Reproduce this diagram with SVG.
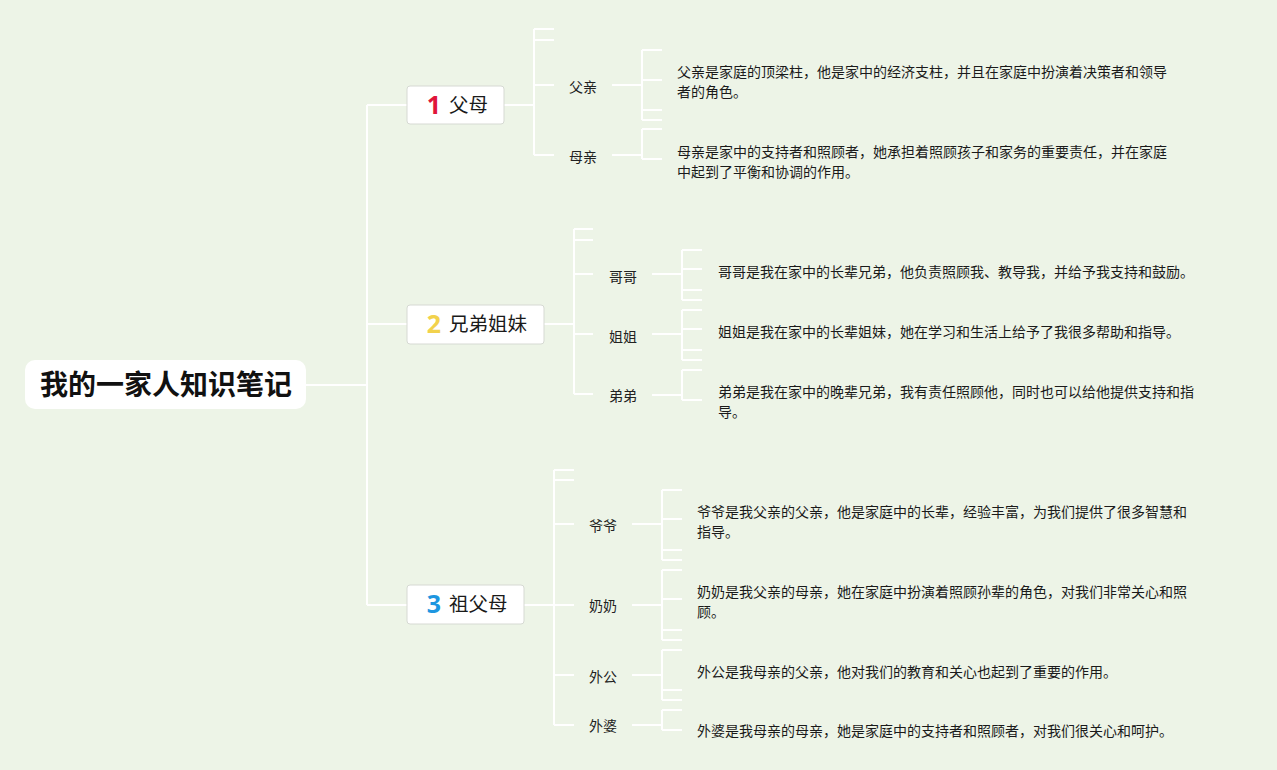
<svg xmlns="http://www.w3.org/2000/svg" width="1277" height="770" viewBox="0 0 1277 770">
<defs>
<style>
.bg{fill:#EDF4E7}
.ln{fill:none;stroke:#FFFFFF;stroke-width:2}
.root{fill:#FFFFFF}
.box{fill:#FFFFFF;stroke:#D6D9D3;stroke-width:1}
.rt{font-family:"Noto Sans CJK SC","Noto Sans",sans-serif;font-size:28px;font-weight:bold;fill:#111111}
.bt{font-family:"Noto Sans CJK SC","Noto Sans",sans-serif;font-size:19.5px;fill:#1A1A1A}
.num{font-family:"Noto Sans","Liberation Sans",sans-serif;font-size:25px;font-weight:bold}
.lb{font-family:"Noto Sans CJK SC","Noto Sans",sans-serif;font-size:14px;fill:#222222}
.tx{font-family:"Noto Sans CJK SC","Noto Sans",sans-serif;font-size:14px;fill:#1A1A1A}
</style>
</defs>
<rect class="bg" x="0" y="0" width="1277" height="770"/>
<g id="connectors">
<path class="ln" d="M306 385H367M367 105V605M367 105H407M367 324H407M367 605H407"/>
<path class="ln" d="M504 105H534M534 29V155M534 29H554M534 40H554M534 85H554M534 155H554"/>
<path class="ln" d="M612 85H642M642 50V120M642 50H662M642 80H662M642 110H662M642 120H662"/>
<path class="ln" d="M612 155H642M642 129V159M642 129H662M642 159H662"/>
<path class="ln" d="M544 324H574M574 229V394M574 229H593M574 240H593M574 274H593M574 334H593M574 394H593"/>
<path class="ln" d="M652 274H682M682 250V300M682 250H702M682 269H702M682 290H702M682 300H702"/>
<path class="ln" d="M652 334H682M682 310V360M682 310H702M682 329H702M682 350H702M682 360H702"/>
<path class="ln" d="M652 395H682M682 370V400M682 370H702M682 400H702"/>
<path class="ln" d="M524 605H554M554 470V725M554 470H574M554 480H574M554 524H574M554 605H574M554 675H574M554 725H574"/>
<path class="ln" d="M632 524H662M662 490V560M662 490H682M662 519H682M662 550H682M662 560H682"/>
<path class="ln" d="M632 605H662M662 570V640M662 570H682M662 599H682M662 630H682M662 640H682"/>
<path class="ln" d="M632 675H662M662 650V700M662 650H682M662 690H682M662 700H682"/>
<path class="ln" d="M632 725H662M662 710V730M662 710H682M662 730H682"/>
</g>
<g id="root">
<rect class="root" x="25" y="360" width="281" height="49" rx="10"/>
<text class="rt" x="166" y="395" text-anchor="middle">我的一家人知识笔记</text>
</g>
<g id="b1">
<rect class="box" x="407" y="86" width="97" height="38" rx="3"/>
<text class="num" x="434" y="114" text-anchor="middle" fill="#E0153A">1</text>
<text class="bt" x="449" y="112">父母</text>
</g>
<g id="b2">
<rect class="box" x="407" y="305" width="137" height="39" rx="3"/>
<text class="num" x="434" y="333" text-anchor="middle" fill="#F2D24C">2</text>
<text class="bt" x="449" y="331">兄弟姐妹</text>
</g>
<g id="b3">
<rect class="box" x="407" y="585" width="117" height="39" rx="3"/>
<text class="num" x="434" y="613" text-anchor="middle" fill="#1E96E0">3</text>
<text class="bt" x="449" y="611">祖父母</text>
</g>
<g id="n-fuqin"><text class="lb" x="583" y="92" text-anchor="middle">父亲</text></g>
<g id="n-muqin"><text class="lb" x="583" y="162" text-anchor="middle">母亲</text></g>
<g id="n-gege"><text class="lb" x="623" y="282" text-anchor="middle">哥哥</text></g>
<g id="n-jiejie"><text class="lb" x="623" y="342" text-anchor="middle">姐姐</text></g>
<g id="n-didi"><text class="lb" x="623" y="401" text-anchor="middle">弟弟</text></g>
<g id="n-yeye"><text class="lb" x="603" y="531" text-anchor="middle">爷爷</text></g>
<g id="n-nainai"><text class="lb" x="603" y="611" text-anchor="middle">奶奶</text></g>
<g id="n-waigong"><text class="lb" x="603" y="682" text-anchor="middle">外公</text></g>
<g id="n-waipo"><text class="lb" x="603" y="731" text-anchor="middle">外婆</text></g>
<g id="t-fuqin"><text class="tx" x="677" y="77">父亲是家庭的顶梁柱，他是家中的经济支柱，并且在家庭中扮演着决策者和领导</text><text class="tx" x="677" y="97">者的角色。</text></g>
<g id="t-muqin"><text class="tx" x="677" y="157">母亲是家中的支持者和照顾者，她承担着照顾孩子和家务的重要责任，并在家庭</text><text class="tx" x="677" y="177">中起到了平衡和协调的作用。</text></g>
<g id="t-gege"><text class="tx" x="718" y="277">哥哥是我在家中的长辈兄弟，他负责照顾我、教导我，并给予我支持和鼓励。</text></g>
<g id="t-jiejie"><text class="tx" x="718" y="337">姐姐是我在家中的长辈姐妹，她在学习和生活上给予了我很多帮助和指导。</text></g>
<g id="t-didi"><text class="tx" x="718" y="397">弟弟是我在家中的晚辈兄弟，我有责任照顾他，同时也可以给他提供支持和指</text><text class="tx" x="718" y="417">导。</text></g>
<g id="t-yeye"><text class="tx" x="697" y="517">爷爷是我父亲的父亲，他是家庭中的长辈，经验丰富，为我们提供了很多智慧和</text><text class="tx" x="697" y="537">指导。</text></g>
<g id="t-nainai"><text class="tx" x="697" y="597">奶奶是我父亲的母亲，她在家庭中扮演着照顾孙辈的角色，对我们非常关心和照</text><text class="tx" x="697" y="617">顾。</text></g>
<g id="t-waigong"><text class="tx" x="697" y="677">外公是我母亲的父亲，他对我们的教育和关心也起到了重要的作用。</text></g>
<g id="t-waipo"><text class="tx" x="697" y="736">外婆是我母亲的母亲，她是家庭中的支持者和照顾者，对我们很关心和呵护。</text></g>
</svg>
